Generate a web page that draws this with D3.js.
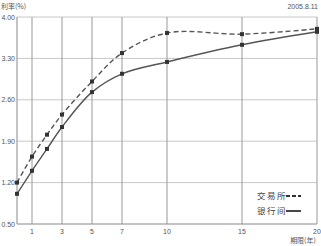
<!DOCTYPE html>
<html>
<head>
<meta charset="utf-8">
<script src="https://cdn.jsdelivr.net/npm/d3@7"></script>
<style>
  body { margin: 0; background: #fff; }
  text { font-family: "Liberation Sans", Arial, sans-serif; fill: #555; }
</style>
</head>
<body>
<script>
// Data
const years = [0, 1, 2, 3, 5, 7, 10, 15, 20]
const exchange = [1.20, 1.64, 2.01, 2.35, 2.91, 3.39, 3.73, 3.71, 3.80]
const interbank = [1.01, 1.40, 1.77, 2.14, 2.73, 3.04, 3.24, 3.53, 3.75]
const xTicks = [1, 3, 5, 7, 10, 15, 20]
const yTicks = [0.5, 1.2, 1.9, 2.6, 3.3, 4.0]
const legendNames = ['交易所', '银行间']

const width = 321
const height = 246
const margin = { top: 17, right: 4, bottom: 22, left: 17 }

const svg = d3.select('body').append('svg')
  .attr('width', width)
  .attr('height', height)

const x = d3.scaleLinear().domain([0, 20]).range([margin.left, width - margin.right])
const y = d3.scaleLinear().domain([0.5, 4.0]).range([height - margin.bottom, margin.top])

// Grid
svg.append('g')
  .selectAll('line')
  .data(yTicks.slice(1))
  .enter()
  .append('line')
  .attr('x1', x(0))
  .attr('x2', x(20))
  .attr('y1', d => y(d))
  .attr('y2', d => y(d))
  .attr('stroke', '#c8c8c8')
  .attr('stroke-width', 1)

svg.append('g')
  .selectAll('line')
  .data(xTicks)
  .enter()
  .append('line')
  .attr('x1', d => x(d))
  .attr('x2', d => x(d))
  .attr('y1', y(0.5))
  .attr('y2', y(4.0))
  .attr('stroke', '#999')
  .attr('stroke-width', 1)

// Axes lines
svg.append('line')
  .attr('x1', x(0)).attr('x2', x(0))
  .attr('y1', y(0.5)).attr('y2', y(4.0))
  .attr('stroke', '#888')
svg.append('line')
  .attr('x1', x(0)).attr('x2', x(20))
  .attr('y1', y(0.5)).attr('y2', y(0.5))
  .attr('stroke', '#888')

// Tick labels
svg.append('g')
  .selectAll('text')
  .data(yTicks)
  .enter()
  .append('text')
  .attr('x', x(0) - 2)
  .attr('y', d => y(d) + 2.5)
  .attr('text-anchor', 'end')
  .attr('font-size', 7)
  .text(d => d.toFixed(2))

svg.append('g')
  .selectAll('text')
  .data(xTicks)
  .enter()
  .append('text')
  .attr('x', d => x(d))
  .attr('y', y(0.5) + 10)
  .attr('text-anchor', 'middle')
  .attr('font-size', 7)
  .text(d => d)

svg.append('text')
  .attr('x', 1)
  .attr('y', 9)
  .attr('font-size', 7)
  .style('font-family', '"Noto Sans CJK SC", sans-serif')
  .text('利率(%)')

svg.append('text')
  .attr('x', width - 3)
  .attr('y', 9)
  .attr('text-anchor', 'end')
  .attr('font-size', 7)
  .text('2005.8.11')

svg.append('text')
  .attr('x', 303)
  .attr('y', 243)
  .attr('text-anchor', 'middle')
  .attr('font-size', 7)
  .style('font-family', '"Noto Sans CJK SC", sans-serif')
  .text('期限(年)')

// Lines
const line = d3.line()
  .x(d => x(d[0]))
  .y(d => y(d[1]))
  .curve(d3.curveCatmullRom.alpha(0.5))

const series = [
  { name: legendNames[0], values: exchange, dash: '5,3' },
  { name: legendNames[1], values: interbank, dash: null },
]

series.forEach(s => {
  const pts = years.map((t, i) => [t, s.values[i]])
  svg.append('path')
    .datum(pts)
    .attr('d', line)
    .attr('fill', 'none')
    .attr('stroke', '#555')
    .attr('stroke-width', 1.4)
    .attr('stroke-dasharray', s.dash)

  svg.append('g')
    .selectAll('rect')
    .data(pts)
    .enter()
    .append('rect')
    .attr('x', d => x(d[0]) - 2)
    .attr('y', d => y(d[1]) - 2)
    .attr('width', 4)
    .attr('height', 4)
    .attr('fill', '#333')
})

// Legend
const legend = svg.append('g')
series.forEach((s, i) => {
  const ly = 196 + i * 15
  legend.append('text')
    .attr('x', 257)
    .attr('y', ly + 3)
    .attr('font-size', 8.5)
    .attr('letter-spacing', 1.5)
    .style('font-family', '"Noto Sans CJK SC", serif')
    .style('fill', '#444')
    .text(s.name)
  legend.append('line')
    .attr('x1', 286)
    .attr('x2', 301)
    .attr('y1', ly)
    .attr('y2', ly)
    .attr('stroke', '#333')
    .attr('stroke-width', 1.8)
    .attr('stroke-dasharray', s.dash ? '4,2' : null)
})
</script>
</body>
</html>
